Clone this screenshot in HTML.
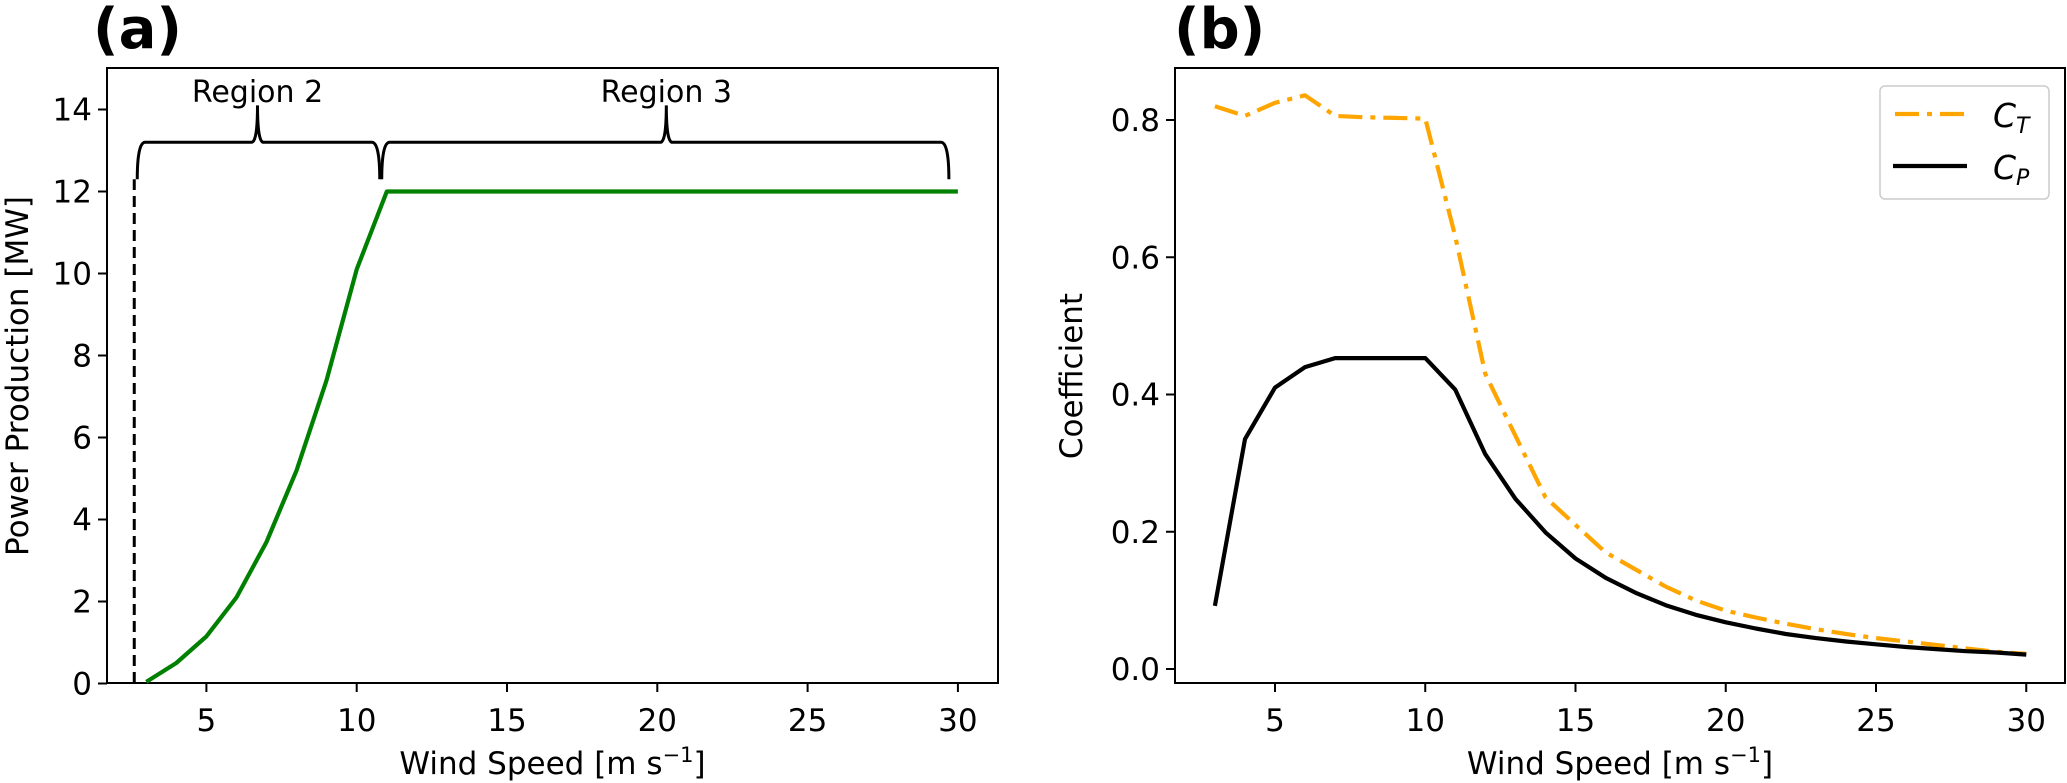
<!DOCTYPE html>
<html><head><meta charset="utf-8"><style>
html,body{margin:0;padding:0;background:#fff}
svg{display:block}
text{font-family:"DejaVu Sans","Liberation Sans",sans-serif;fill:#000}
</style></head><body>
<svg id="fig" width="2067" height="783" viewBox="0 0 2067 783" xmlns="http://www.w3.org/2000/svg"></svg>
<script>
const windSpeedsA = [3,4,5,6,7,8,9,10,11,12,13,14,15,16,17,18,19,20,21,22,23,24,25,26,27,28,29,30];
const powerMW = [0.04,0.5,1.15,2.1,3.45,5.2,7.4,10.1,12,12,12,12,12,12,12,12,12,12,12,12,12,12,12,12,12,12,12,12];
const powerYTicks = [0,2,4,6,8,10,12,14];
const xTicks = [5,10,15,20,25,30];
const windSpeedsB = [3,4,5,6,7,8,9,10,11,12,13,14,15,16,17,18,19,20,21,22,23,24,25,26,27,28,29,30];
const ctValues = [0.82,0.806,0.825,0.836,0.806,0.804,0.803,0.802,0.63,0.43,0.34,0.25,0.21,0.17,0.145,0.12,0.10,0.085,0.075,0.066,0.058,0.051,0.045,0.04,0.035,0.03,0.025,0.022];
const cpValues = [0.092,0.335,0.41,0.44,0.453,0.453,0.453,0.453,0.407,0.313,0.248,0.199,0.161,0.133,0.111,0.093,0.079,0.068,0.059,0.051,0.045,0.040,0.036,0.032,0.029,0.026,0.024,0.021];
const coefYTicks = [0.0,0.2,0.4,0.6,0.8];
const cutInSpeed = 2.6;
const ratedSpeed = 10.8;

const NS="http://www.w3.org/2000/svg";
const svg=document.getElementById('fig');
function el(tag,attrs,parent){const e=document.createElementNS(NS,tag);for(const k in attrs)e.setAttribute(k,attrs[k]);(parent||svg).appendChild(e);return e;}

const A={l:107,r:998,t:68,b:683};
const xa=v=>206.4+(v-5)*30.06;
const ya=v=>683.5-v*41;
const B={l:1175,r:2065,t:68,b:683};
const xb=v=>1275+(v-5)*30.05;
const yb=v=>669-v*686.25;

function axes(P,xs,ys,xt,yt,fmt,name){
  const g=el('g',{});
  
  
  const r=el('rect',{x:P.l,y:P.t,width:P.r-P.l,height:P.b-P.t,fill:'none',stroke:'#000','stroke-width':2},g);
  
  
  xt.forEach(v=>{
    el('line',{x1:xs(v),x2:xs(v),y1:P.b,y2:P.b+9,stroke:'#000','stroke-width':2},g);
    const t=el('text',{x:xs(v),y:P.b+48,'font-size':31,'text-anchor':'middle'},g);
    t.textContent=v;
    
    
  });
  yt.forEach(v=>{
    el('line',{x1:P.l-9,x2:P.l,y1:ys(v),y2:ys(v),stroke:'#000','stroke-width':2},g);
    const t=el('text',{x:P.l-15,y:ys(v)+11,'font-size':31,'text-anchor':'end'},g);
    t.textContent=fmt(v);
    
    
  });
}
axes(A,xa,ya,xTicks,powerYTicks,v=>v,'panel-a');
axes(B,xb,yb,xTicks,coefYTicks,v=>v.toFixed(1),'panel-b');

function line(xs,ys,X,Y,attrs,name){
  const d=X.map((x,i)=>(i?'L':'M')+xs(x).toFixed(1)+' '+ys(Y[i]).toFixed(1)).join(' ');
  const p=el('path',Object.assign({d:d,fill:'none','stroke-linejoin':'round'},attrs));
  
  
}
line(xa,ya,windSpeedsA,powerMW,{stroke:'#008000','stroke-width':4.2},'power-curve');
const cl=el('line',{x1:xa(cutInSpeed),x2:xa(cutInSpeed),y1:A.b,y2:ya(12.3),stroke:'#000','stroke-width':3,'stroke-dasharray':'11,6'});


const by=ya(13.2), tipY=ya(14.1), endY=ya(12.3);
function brace(x0,x1,xm,name){
  const d=`M${x0} ${endY} Q${x0} ${by} ${x0+8} ${by} L${xm-6} ${by} Q${xm} ${by} ${xm} ${tipY} Q${xm} ${by} ${xm+6} ${by} L${x1-8} ${by} Q${x1} ${by} ${x1} ${endY}`;
  const p=el('path',{d:d,fill:'none',stroke:'#000','stroke-width':3});
  
  
}
brace(xa(2.7),xa(ratedSpeed)-1,xa(6.7),'region-2-brace');
brace(xa(ratedSpeed)+1,xa(29.7),xa(20.3),'region-3-brace');
[['Region 2',6.7,'region-2-label'],['Region 3',20.3,'region-3-label']].forEach(a=>{
  const t=el('text',{x:xa(a[1]),y:102,'font-size':30,'text-anchor':'middle'});
  t.textContent=a[0];
  
  
});

line(xb,yb,windSpeedsB,ctValues,{stroke:'#FFA500','stroke-width':4.2,'stroke-dasharray':'24,8,5,8'},'ct-curve');
line(xb,yb,windSpeedsB,cpValues,{stroke:'#000','stroke-width':4.2},'cp-curve');

const lg=el('g',{});


el('rect',{x:1880,y:86,width:169,height:113,rx:5,fill:'#fff',stroke:'#ccc','stroke-width':1.5},lg);
const l1=el('line',{x1:1895,x2:1965,y1:114,y2:114,stroke:'#FFA500','stroke-width':4.2,'stroke-dasharray':'24,8,5,8'},lg);


const l2=el('line',{x1:1893,x2:1967,y1:166,y2:166,stroke:'#000','stroke-width':4.2},lg);


const t1=el('text',{x:1993,y:127,'font-size':33,'font-style':'italic'},lg);
t1.innerHTML='C<tspan font-size="22" dy="6">T</tspan>';
const t2=el('text',{x:1993,y:179,'font-size':33,'font-style':'italic'},lg);
t2.innerHTML='C<tspan font-size="22" dy="6">P</tspan>';

function txt(s,attrs,name){const t=el('text',attrs);t.innerHTML=s;return t;}
txt('Wind Speed [m s<tspan font-size="21" dy="-12">−1</tspan><tspan dy="12">]</tspan>',{x:(A.l+A.r)/2,y:774,'font-size':31,'text-anchor':'middle'},'panel-a-x-axis-title');
txt('Wind Speed [m s<tspan font-size="21" dy="-12">−1</tspan><tspan dy="12">]</tspan>',{x:(B.l+B.r)/2,y:774,'font-size':31,'text-anchor':'middle'},'panel-b-x-axis-title');
txt('Power Production [MW]',{x:0,y:0,'font-size':31,'text-anchor':'middle',transform:'translate(28,376) rotate(-90)'},'panel-a-y-axis-title');
txt('Coefficient',{x:0,y:0,'font-size':31,'text-anchor':'middle',transform:'translate(1082,376) rotate(-90)'},'panel-b-y-axis-title');
txt('(a)',{x:93,y:48,'font-size':56,'font-weight':'bold'},'panel-a-label');
txt('(b)',{x:1174,y:48,'font-size':56,'font-weight':'bold'},'panel-b-label');
</script>
</body></html>
